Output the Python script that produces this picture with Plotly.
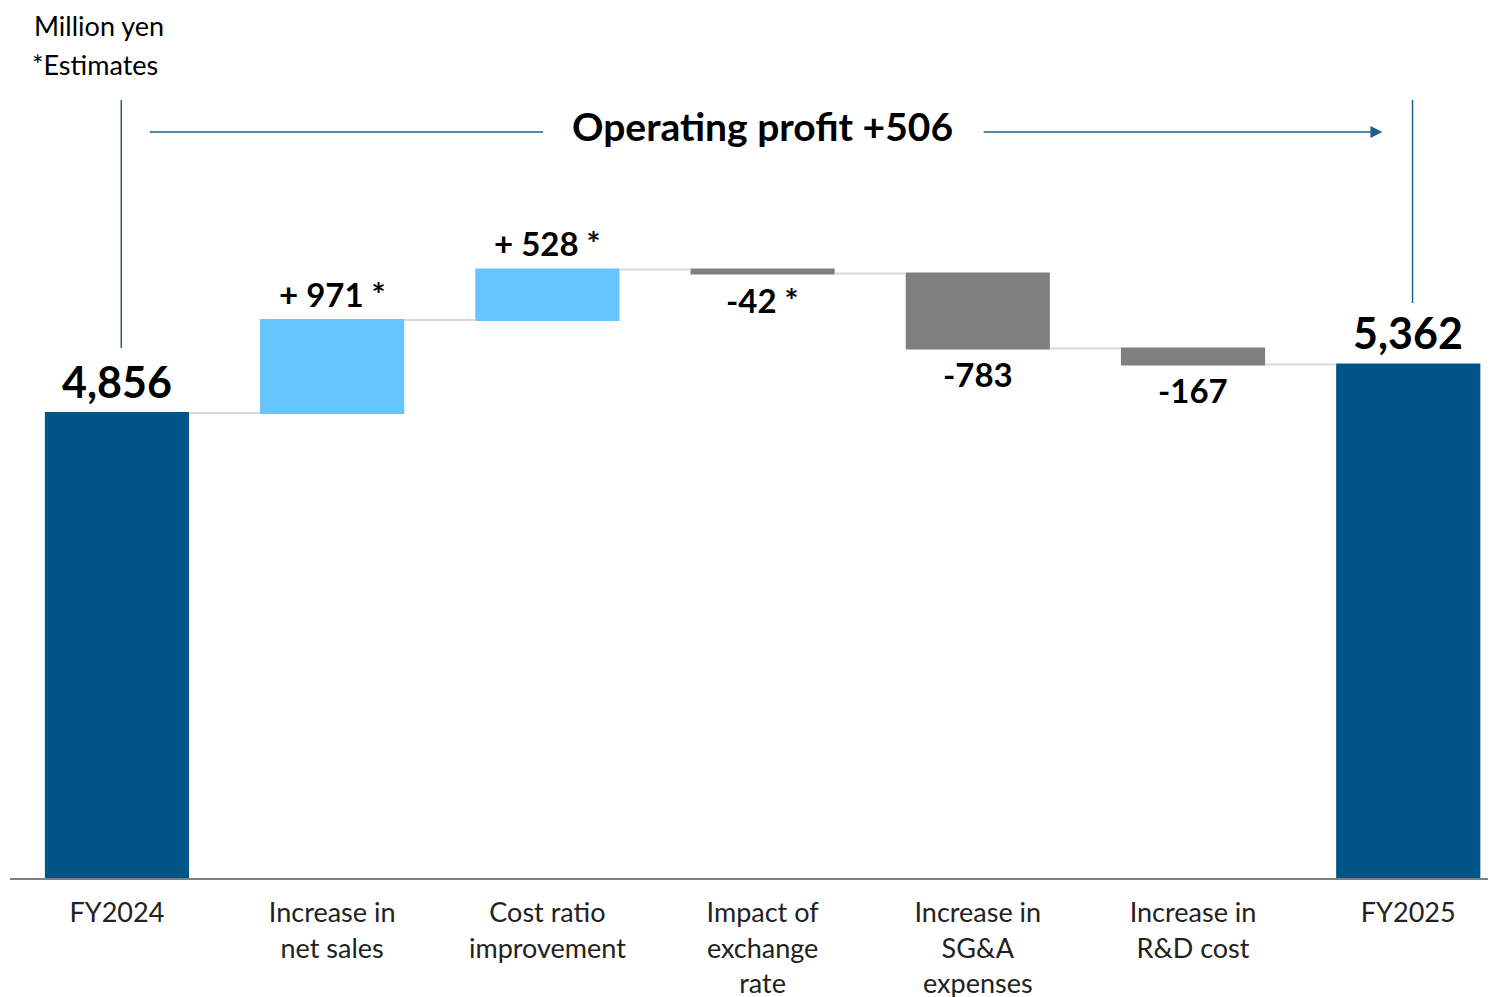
import numpy as np
import plotly.graph_objects as go

categories = ["FY2024", "Increase in<br>net sales", "Cost ratio<br>improvement",
              "Impact of<br>exchange<br>rate", "Increase in<br>SG&A<br>expenses",
              "Increase in<br>R&D cost", "FY2025"]
values = [4856, 971, 528, -42, -783, -167, 0]
measures = ["absolute", "relative", "relative", "relative", "relative", "relative", "total"]
labels = ["4,856", "+ 971 *", "+ 528 *", "-42 *", "-783", "-167", "5,362"]

FONT = "Lato"
DARK = "#005587"
LIGHT = "#66C4FF"
GREY = "#808080"
LINE = "#1f5f8b"

fig = go.Figure(go.Waterfall(
    x=list(range(len(categories))),
    y=values,
    measure=measures,
    width=0.67,
    increasing=dict(marker=dict(color=LIGHT)),
    decreasing=dict(marker=dict(color=GREY)),
    totals=dict(marker=dict(color=DARK)),
    connector=dict(line=dict(color="#d9d9d9", width=2)),
    hoverinfo="skip",
))

# running totals for label placement
ends = np.cumsum(values[:-1]).tolist()
ends.append(ends[-1])
for i, lab in enumerate(labels):
    start = 0 if measures[i] in ("absolute", "total") else ends[i] - values[i]
    top, bot = max(start, ends[i]), min(start, ends[i])
    big = measures[i] != "relative"
    if values[i] < 0:
        y, anchor, shift = bot, "top", -4
    else:
        y, anchor, shift = top, "bottom", 4
    fig.add_annotation(x=i, y=y, text=f"<b>{lab}</b>", showarrow=False,
                       yanchor=anchor, yshift=shift,
                       font=dict(family=FONT, size=43 if big else 33, color="black"))

# header: Operating profit arrow
fig.add_annotation(x=3, y=7790, yshift=6, text="<b>Operating profit +506</b>", showarrow=False,
                   font=dict(family=FONT, size=39, color="black"))
fig.add_shape(type="line", x0=0.153, x1=1.98, y0=7790, y1=7790,
              line=dict(color=LINE, width=1.5))
fig.add_annotation(x=5.88, y=7790, ax=4.02, ay=7790, axref="x", ayref="y",
                   showarrow=True, arrowhead=2, arrowsize=1.6, arrowwidth=1.5,
                   arrowcolor=LINE, text="")
fig.add_shape(type="line", x0=0.02, x1=0.02, y0=5535, y1=8125,
              line=dict(color=LINE, width=1.5))
fig.add_shape(type="line", x0=6.02, x1=6.02, y0=6005, y1=8125,
              line=dict(color=LINE, width=1.5))

fig.add_annotation(x=0.0155, y=870 / 778, xref="paper", yref="paper",
                   xanchor="left", yanchor="top", text="Million yen", showarrow=False,
                   borderpad=0, font=dict(family=FONT, size=27, color="black"))
fig.add_annotation(x=0.0135, y=1.045, xref="paper", yref="paper",
                   xanchor="left", yanchor="middle", text="*Estimates", showarrow=False,
                   font=dict(family=FONT, size=27, color="black"))

fig.update_layout(
    width=1496, height=997,
    margin=dict(l=2, r=0, t=92, b=127),
    plot_bgcolor="white", paper_bgcolor="white",
    showlegend=False,
    font=dict(family=FONT, size=27, color="#222222"),
)
fig.update_xaxes(tickmode="array", tickvals=list(range(len(categories))), ticktext=categories,
                 range=[-0.497, 6.445], showline=True, linecolor="#7f7f7f", linewidth=2,
                 ticks="", automargin=False, showgrid=False, zeroline=False,
                 ticklabelstandoff=10,
                 tickfont=dict(family=FONT, size=27, color="#222222"))
fig.update_yaxes(range=[0, 8125], visible=False, showgrid=False, zeroline=False)

fig.write_html("out.html")
